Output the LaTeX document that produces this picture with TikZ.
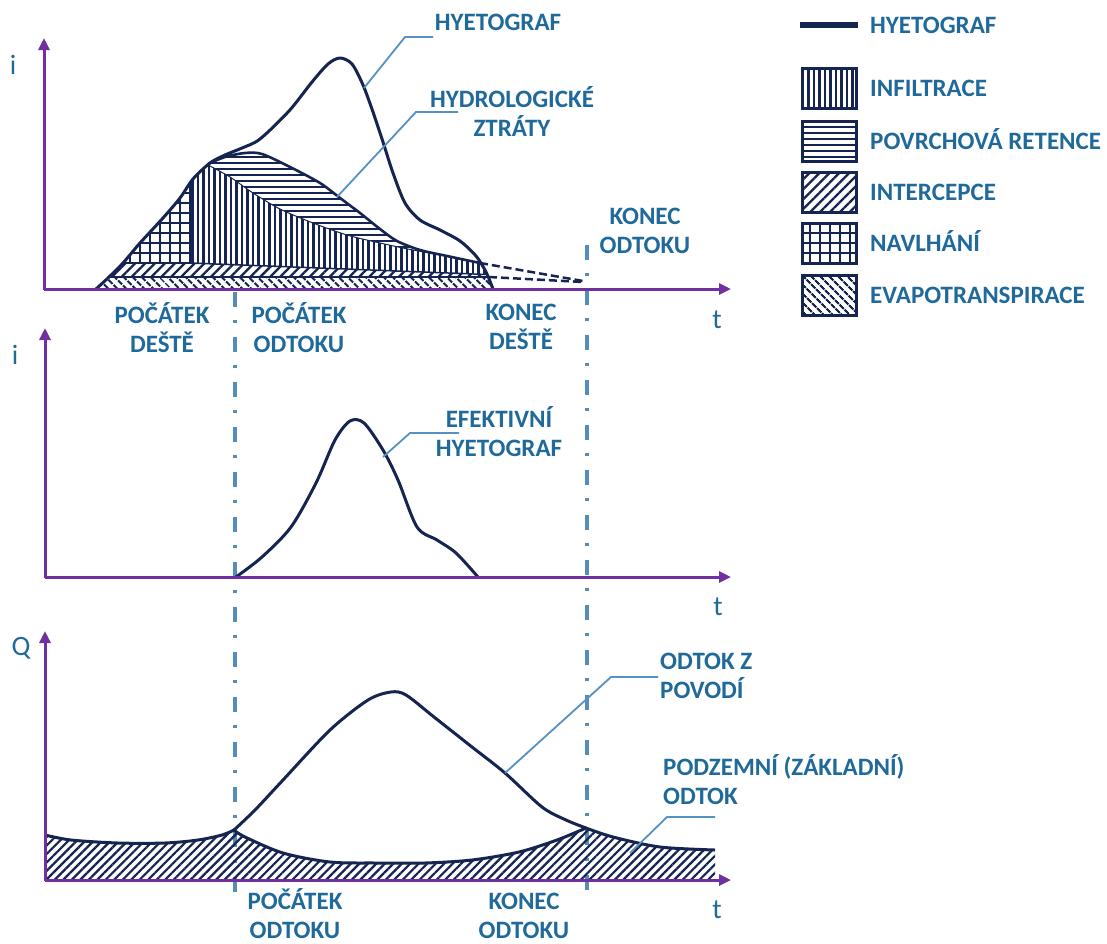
\documentclass[tikz,border=0pt]{standalone}
\usepackage{fontspec}
\setmainfont{Carlito}
\usetikzlibrary{arrows.meta,patterns.meta}
\definecolor{navy}{RGB}{22,36,82}
\definecolor{lbl}{RGB}{31,105,155}
\definecolor{axc}{RGB}{112,48,160}
\definecolor{ldr}{RGB}{85,145,195}
\definecolor{ddc}{RGB}{85,140,185}
\begin{document}
\begin{tikzpicture}[x=1pt,y=-1pt,
  lab/.style={text=lbl,font=\fontsize{25}{29}\selectfont\bfseries,align=center,inner sep=0pt,text height=16pt,text depth=0pt},
  labl/.style={lab,align=left},
  var/.style={text=lbl,font=\fontsize{28}{30}\selectfont,inner sep=0pt},
  axis/.style={axc,line width=3pt,-{Triangle[length=12pt,width=11pt]}},
  curve/.style={navy,line width=3pt,line join=round},
  leader/.style={ldr,line width=1.8pt},
  ddline/.style={ddc,line width=3.2pt,dash pattern=on 15pt off 13pt on 3pt off 14pt},
  bnd/.style={navy,line width=1.5pt},
  pv/.style={pattern={Lines[angle=90,distance=5.5pt,line width=2.3pt]},pattern color=navy},
  ph/.style={pattern={Lines[angle=0,distance=6pt,line width=2.3pt]},pattern color=navy},
  pne/.style={pattern={Lines[angle=45,distance=7pt,line width=2.3pt]},pattern color=navy},
  pnw/.style={pattern={Lines[angle=-45,distance=6.5pt,line width=2.3pt]},pattern color=navy},
  pg/.style={pattern={Hatch[distance=10pt,line width=1.5pt]},pattern color=navy},
  pbase/.style={pattern={Lines[angle=45,distance=6pt,line width=2.2pt]},pattern color=navy},
  legbox/.style={draw=navy,line width=3pt},
]
\useasboundingbox[fill=white] (0,0) rectangle (1107,943);

% ---------- dash-dot markers ----------
\draw[ddline] (235,292) -- (235,893);
\draw[ddline] (587,245) -- (587,895);

% ---------- TOP GRAPH: hatched regions ----------
\begin{scope}
  \clip plot[smooth] coordinates {(96,289) (108,278) (123,263) (140,243) (163,218) (180,198) (193,179) (210,163) (225,155) (242,148) (260,139) (289,111) (312,82) (328,64) (340,58) (352,64) (363,85) (373,112) (383,142) (393,173) (405,203) (420,220) (440,230) (460,241) (476,256) (486,272) (493,289)} -- cycle;
  % horizontal hatch (povrchova retence) under L
  \path[ph] (190,263) -- (190,140) -- plot[smooth] coordinates {(208,164) (225,157) (245,153) (262,154) (290,167) (320,183) (340,198) (360,213) (380,229) (397,241) (420,250) (447,256) (480,263)} -- (500,263) -- (500,275) -- cycle;
  % vertical hatch (infiltrace) under I
  \path[fill=white] (190,263) -- (190,140) -- plot[smooth] coordinates {(208,165) (230,177) (253,193) (280,209) (313,223) (347,235) (380,243) (413,250) (447,256) (480,263)} -- (500,264) -- (500,275) -- cycle;
  \path[pv] (190,263) -- (190,140) -- plot[smooth] coordinates {(208,165) (230,177) (253,193) (280,209) (313,223) (347,235) (380,243) (413,250) (447,256) (480,263)} -- (500,264) -- (500,275) -- cycle;
  % grid (navlhani)
  \path[pg] (80,263) -- (190,263) -- (190,100) -- (80,100) -- cycle;
  % intercepce wedge
  \path[pne] (80,263) -- (190,263) -- (500,275) -- (500,277) -- (80,277) -- cycle;
  % evapotranspirace band
  \path[pnw] (80,277) rectangle (510,290);
  % boundaries
  \draw[bnd] (80,263) -- (190,263) -- (500,275);
  \draw[bnd] (80,277) -- (500,277);
  \draw[bnd] (190,263) -- (190,150);
  \draw[navy,line width=1pt] plot[smooth] coordinates {(208,165) (230,177) (253,193) (280,209) (313,223) (347,235) (380,243) (413,250) (447,256) (480,263)};
\end{scope}
% curves
\draw[curve] plot[smooth] coordinates {(96,289) (108,278) (123,263) (140,243) (163,218) (180,198) (193,179) (210,163) (225,155) (242,148) (260,139) (289,111) (312,82) (328,64) (340,58) (352,64) (363,85) (373,112) (383,142) (393,173) (405,203) (420,220) (440,230) (460,241) (476,256) (486,272) (493,289)};
\draw[curve,line width=2.6pt] plot[smooth] coordinates {(208,164) (225,157) (245,153) (262,154) (290,167) (320,183) (340,198) (360,213) (380,229) (397,241) (420,250) (447,256) (480,263)};
\draw[navy,line width=2.5pt,dash pattern=on 8pt off 4pt] (480,263) -- (583,281);
\draw[navy,line width=2.5pt,dash pattern=on 8pt off 4pt] (489,277) -- (583,282);
% axes
\draw[axis] (44,289) -- (731,289);
\draw[axis] (44,290) -- (44,38);

% ---------- MIDDLE GRAPH ----------
\draw[curve] plot[smooth] coordinates {(236,577) (262,557) (291,527) (316,483) (335,440) (350,421) (364,423) (383,450) (398,480) (417,527) (437,540) (456,553) (478,577)};
\draw[axis] (45,577) -- (731,577);
\draw[axis] (45,578) -- (45,328);

% ---------- BOTTOM GRAPH ----------
\path[pbase] (45,880) -- (45,835) -- plot[smooth] coordinates {(45,835) (71,840) (118,843) (165,843) (198,840) (222,835) (234,830)} -- plot[smooth] coordinates {(234,830) (245,837) (283,853) (330,862) (377,863) (425,863) (472,860) (519,852) (557,840) (586,828)} -- plot[smooth] coordinates {(586,828) (613,837) (660,847) (715,850)} -- (715,880) -- cycle;
\draw[curve] plot[smooth] coordinates {(45,835) (71,840) (118,843) (165,843) (198,840) (222,835) (234,830)} -- plot[smooth] coordinates {(234,830) (245,837) (283,853) (330,862) (377,863) (425,863) (472,860) (519,852) (557,840) (586,828)} -- plot[smooth] coordinates {(586,828) (613,837) (660,847) (715,850)};
\draw[curve] plot[smooth] coordinates {(234,830) (255,810) (283,780) (330,730) (368,700) (391,692) (406,695) (434,717) (472,747) (505,773) (542,807) (566,820) (586,828)};
\draw[axis] (45,880) -- (731,880);
\draw[axis] (45,881) -- (45,631);

% ---------- labels (two-line nodes are placed by their second line) ----------
\node[lab] (hyet) at (498,22) {HYETOGRAF};
\node[lab] (hydro) at (512,128) {HYDROLOGICKÉ\\ZTRÁTY};
\node[lab] (konO1) at (645,245) {KONEC\\ODTOKU};
\node[lab] (pocD) at (162,344) {POČÁTEK\\DEŠTĚ};
\node[lab] (pocO1) at (299,344) {POČÁTEK\\ODTOKU};
\node[lab] (konD) at (521,341) {KONEC\\DEŠTĚ};
\node[lab] (efek) at (499,448) {EFEKTIVNÍ\\HYETOGRAF};
\node[labl,anchor=west] (odtz) at (660,690) {ODTOK Z\\POVODÍ};
\node[labl,anchor=west] (podz) at (663,796) {PODZEMNÍ (ZÁKLADNÍ)\\ODTOK};
\node[lab] (pocO2) at (295,930) {POČÁTEK\\ODTOKU};
\node[lab] (konO2) at (524,930) {KONEC\\ODTOKU};

\node[var] (i1) at (13,65) {i};
\node[var] (t1) at (717,320) {t};
\node[var] (i2) at (15,355) {i};
\node[var] (t2) at (718,607) {t};
\node[var] (q3) at (21,648) {Q};
\node[var] (t3) at (717,910) {t};

% ---------- leaders ----------
\coordinate (lh) at (364,88);
\coordinate (lz) at (337,197);
\coordinate (le) at (383,457);
\coordinate (lo) at (505,773);
\coordinate (lp) at (630,853);
\draw[leader] (lh) -- (405,37) -- (433,37);
\draw[leader] (lz) -- (416,112) -- (458,112);
\draw[leader] (le) -- (410,433) -- (459,433);
\draw[leader] (lo) -- (611,677) -- (658,677);
\draw[leader] (lp) -- (667,817) -- (715,817);

% ---------- legend ----------
\draw[navy,line width=6pt] (800,25) -- (858,25);
\node[labl,anchor=west] (lg1) at (870,25) {HYETOGRAF};
\draw[legbox,pv] (802,68) rectangle (856,108);
\node[labl,anchor=west] (lg2) at (870,88) {INFILTRACE};
\draw[legbox,ph] (802,121) rectangle (856,161);
\node[labl,anchor=west] (lg3) at (870,141) {POVRCHOVÁ RETENCE};
\draw[legbox,pne] (802,172) rectangle (856,212);
\node[labl,anchor=west] (lg4) at (870,192) {INTERCEPCE};
\draw[legbox,pg] (802,223) rectangle (856,263);
\node[labl,anchor=west] (lg5) at (870,243) {NAVLHÁNÍ};
\draw[legbox,pnw] (802,275) rectangle (856,315);
\node[labl,anchor=west] (lg6) at (870,295) {EVAPOTRANSPIRACE};
\end{tikzpicture}
\end{document}
